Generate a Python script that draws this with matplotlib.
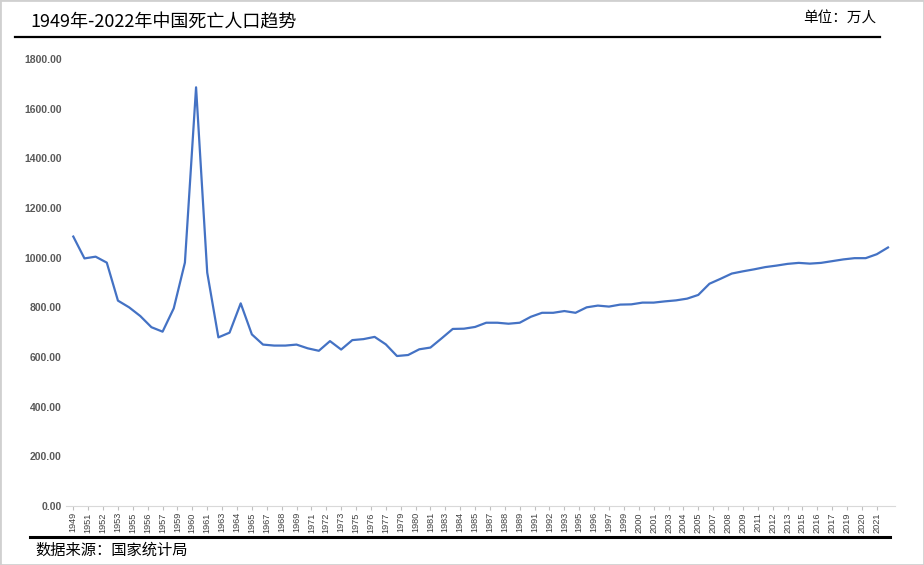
import numpy as np
import matplotlib
matplotlib.use('Agg')
import matplotlib.pyplot as plt
from matplotlib.lines import Line2D
from matplotlib.patches import Rectangle

plt.rcParams['font.family'] = ['Noto Sans CJK SC', 'DejaVu Sans']

years = list(range(1949, 2023))
deaths = [1085, 997, 1004, 980, 827, 800, 765, 720, 702, 796,
          980, 1686, 940, 679, 698, 816, 691, 650, 646, 646,
          650, 635, 625, 664, 630, 668, 672, 681, 651, 604,
          608, 631, 638, 675, 713, 714, 721, 738, 738, 734,
          738, 762, 778, 778, 785, 778, 800, 807, 803, 811,
          812, 819, 819, 824, 828, 835, 850, 895, 915, 936,
          945, 953, 962, 968, 975, 979, 976, 979, 986, 993,
          998, 998, 1014, 1041]

# labels as printed under the axis (Excel skipped some years)
tick_labels = ['1949', '1951', '1952', '1953', '1955', '1956', '1957', '1959',
               '1960', '1961', '1963', '1964', '1965', '1967', '1968', '1969',
               '1971', '1972', '1973', '1975', '1976', '1977', '1979', '1980',
               '1981', '1983', '1984', '1985', '1987', '1988', '1989', '1991',
               '1992', '1993', '1995', '1996', '1997', '1999', '2000', '2001',
               '2003', '2004', '2005', '2007', '2008', '2009', '2011', '2012',
               '2013', '2015', '2016', '2017', '2019', '2020', '2021']
y_ticks = [0, 200, 400, 600, 800, 1000, 1200, 1400, 1600, 1800]

W, H = 924, 565
fig = plt.figure(figsize=(W / 100, H / 100), dpi=100)
ax = fig.add_axes([66 / W, 1 - 506 / H, (895 - 66) / W, 447 / H])

x = np.arange(len(years))
ax.plot(x, deaths, color='#4472C4', lw=1.6, solid_joinstyle='round')

ax.set_xlim(-0.654, 73.627)
ax.set_ylim(0, 1800)
ax.set_xticks(np.linspace(0, len(years) - 2, len(tick_labels)))
ax.set_xticklabels(tick_labels, rotation=90, fontsize=6.6, color='#404040',
                   family=['Liberation Sans', 'DejaVu Sans'])
ax.set_yticks(y_ticks)
ax.set_yticklabels(['%.2f' % v for v in y_ticks], fontsize=7.5, color='#595959',
                   fontweight='bold', family=['Liberation Sans', 'DejaVu Sans'])
ax.tick_params(axis='x', length=3, color='#bfbfbf', pad=1.5)
ax.tick_params(axis='y', length=0, pad=3)
for s in ['top', 'right', 'left']:
    ax.spines[s].set_visible(False)
ax.spines['bottom'].set_color('#d9d9d9')

# title, unit, source and the two black rules
fig.text(30 / W, 1 - 22 / H, '1949年-2022年中国死亡人口趋势', fontsize=13,
         va='center', ha='left', color='black')
fig.text(876 / W, 1 - 19 / H, '单位：万人', fontsize=10.5, va='center', ha='right')
fig.text(35 / W, 1 - 550 / H, '数据来源：国家统计局', fontsize=11, va='center', ha='left')
fig.add_artist(Line2D([15 / W, 880 / W], [1 - 37 / H, 1 - 37 / H], color='black', lw=1.6))
fig.add_artist(Line2D([30 / W, 890 / W], [1 - 537 / H, 1 - 537 / H], color='black', lw=2.2))
fig.add_artist(Rectangle((0, 0), 1, 1, transform=fig.transFigure, fill=False,
                         edgecolor='#d0d0d0', lw=2))

fig.savefig('out.png', dpi=100)
